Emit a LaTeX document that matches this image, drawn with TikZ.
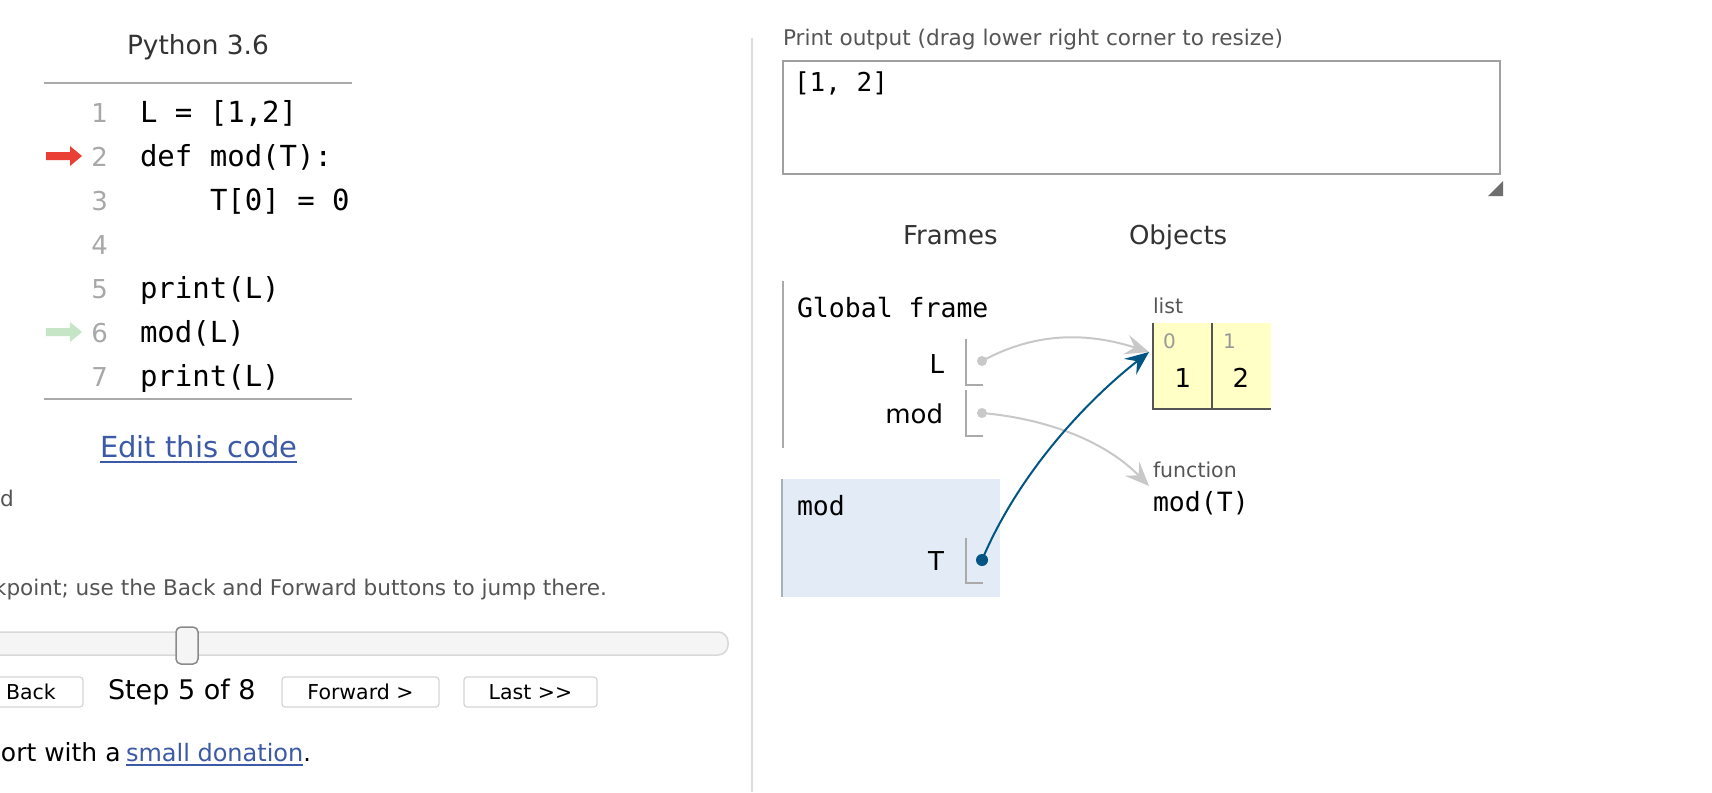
\documentclass[tikz,border=0pt]{standalone}
\usepackage{fontspec}
\setmainfont{DejaVu Sans}
\newfontfamily\monof{DejaVu Sans Mono}
\usetikzlibrary{arrows.meta}
\definecolor{rulegray}{HTML}{AAAAAA}
\definecolor{lnumgray}{HTML}{A8A8A8}
\definecolor{redarr}{HTML}{E93F34}
\definecolor{greenarr}{HTML}{C6E5C6}
\definecolor{linkblue}{HTML}{3C5AA6}
\definecolor{textgray}{HTML}{555555}
\definecolor{headgray}{HTML}{333333}
\definecolor{trackfill}{HTML}{F5F5F5}
\definecolor{trackline}{HTML}{D8D8D8}
\definecolor{handleline}{HTML}{8A8A8A}
\definecolor{btnline}{HTML}{D4D4D4}
\definecolor{divider}{HTML}{DDDDDD}
\definecolor{boxline}{HTML}{A0A0A0}
\definecolor{framefill}{HTML}{E2EBF6}
\definecolor{framebar}{HTML}{A8B0B8}
\definecolor{listyellow}{HTML}{FFFFC6}
\definecolor{listline}{HTML}{555555}
\definecolor{idxgray}{HTML}{999999}
\definecolor{ptrgray}{HTML}{C8C8C8}
\definecolor{ptrblue}{HTML}{005583}
\definecolor{gripgray}{HTML}{6E6E6E}
\newcommand\fs[1]{\fontsize{#1}{#1}\selectfont}
\begin{document}
\begin{tikzpicture}[x=1pt,y=-1pt,
  txt/.style={inner sep=0pt,outer sep=0pt},
  code/.style={txt,anchor=base west,font=\monof\fs{29}},
  lnum/.style={txt,anchor=base east,font=\fs{26},text=lnumgray},
  smalltxt/.style={txt,anchor=base west,font=\fs{21.6},text=textgray},
  btn/.style={draw=btnline,line width=1.2pt,fill=white,rounded corners=3pt,
    minimum height=30pt,inner sep=0pt,font=\fs{20.5},text height=14.6pt,text depth=0pt},
  monotxt/.style={txt,anchor=base west,font=\monof\fs{26.5}},
  varname/.style={txt,anchor=base east,font=\fs{26}},
  bracket/.style={draw=rulegray,line width=1.3pt},
  dot/.style={circle,inner sep=0pt,minimum size=10pt},
  label/.style={txt,anchor=base west,font=\fs{20.5},text=textgray},
  ptr/.style={line width=2pt,-{Stealth[length=24pt,width=20pt,inset=9pt]}},
  cell/.style={fill=listyellow,inner sep=0pt,minimum width=59pt,minimum height=86pt}]
\useasboundingbox (0,0) rectangle (1712,792);
\clip (0,0) rectangle (1712,792);
\fill[white] (0,0) rectangle (1712,792);

% ---------- left panel: code ----------
\node[txt,anchor=base west,font=\fs{26.4},text=headgray] (pyver) at (127,55) {Python 3.6};
\draw[rulegray,line width=1.8pt] (44,83) -- (352,83);
\draw[rulegray,line width=1.8pt] (44,399) -- (352,399);

\node[lnum] (n1) at (108,122) {1};
\node[lnum] (n2) at (108,166) {2};
\node[lnum] (n3) at (108,210) {3};
\node[lnum] (n4) at (108,254) {4};
\node[lnum] (n5) at (108,298) {5};
\node[lnum] (n6) at (108,342) {6};
\node[lnum] (n7) at (108,386) {7};

\node[code] (c1) at (140,122) {L = [1,2]};
\node[code] (c2) at (140,166) {def mod(T):};
\node[code] (c3) at (210,210) {T[0] = 0};
\node[code] (c5) at (140,298) {print(L)};
\node[code] (c6) at (140,342) {mod(L)};
\node[code] (c7) at (140,386) {print(L)};

\fill[redarr] (46,152) -- (70,152) -- (70,146) -- (82,156) -- (70,166) -- (70,160) -- (46,160) -- cycle;
\fill[greenarr] (46,328) -- (70,328) -- (70,322) -- (82,332) -- (70,342) -- (70,336) -- (46,336) -- cycle;

\node[txt,anchor=base west,font=\fs{29},text=linkblue] (edit) at (100,457) {Edit this code};
\draw[linkblue,line width=1.8pt] ([yshift=-5pt]edit.base west) -- ([yshift=-5pt]edit.base east);

\node[smalltxt] (legend) at (0,506) {d};
\node[smalltxt] (hint) at (-6,595) {kpoint; use the Back and Forward buttons to jump there.};

% slider
\draw[trackline,fill=trackfill,line width=1.5pt,rounded corners=10pt] (-20,632) rectangle (728,655);
\draw[handleline,fill=trackfill,line width=1.5pt,rounded corners=5pt] (176,627) rectangle (198,664);

% buttons
\node[btn,minimum width=123pt] (back) at (21.5,692) {};
\node[txt,anchor=base west,font=\fs{20.5}] (backtxt) at (6,699) {Back};
\node[txt,anchor=base west,font=\fs{27}] (step) at (108,699) {Step 5 of 8};
\node[btn,minimum width=157pt] (fwd) at (360.5,692) {Forward >};
\node[btn,minimum width=133pt] (last) at (530.5,692) {Last >{}>};

\node[txt,anchor=base west,font=\fs{25}] (support) at (1,761) {ort with a};
\node[txt,anchor=base west,font=\fs{24},text=linkblue] (donate) at (126,761) {small donation};
\node[txt,anchor=base west,font=\fs{24}] (period) at (donate.base east) {.};
\draw[linkblue,line width=1.5pt] ([yshift=-4pt]donate.base west) -- ([yshift=-4pt]donate.base east);

% divider
\draw[divider,line width=1.5pt] (752,38) -- (752,792);

% ---------- right panel ----------
\node[smalltxt] (ptitle) at (783,46) {Print output (drag lower right corner to resize)};
\node[draw=boxline,line width=2pt,inner sep=0pt,minimum width=717pt,minimum height=113pt] (pbox) at (1141.5,117.5) {};
\node[txt,anchor=base west,font=\monof\fs{26}] (pout) at (794,92) {[1, 2]};
\fill[gripgray] (1503,181) -- (1503,196) -- (1488,196) -- cycle;

\node[txt,anchor=base west,font=\fs{26},text=headgray] (frames) at (903,244) {Frames};
\node[txt,anchor=base west,font=\fs{26},text=headgray] (objects) at (1129,244) {Objects};

% global frame
\draw[rulegray,line width=2pt] (783,281) -- (783,448);
\node[monotxt] (gf) at (797,317) {Global frame};
\node[varname] (vL) at (944,373) {L};
\node[varname] (vmod) at (943,423) {mod};
\draw[bracket] (966,339) -- (966,385) -- (983,385);
\draw[bracket] (966,390) -- (966,436) -- (983,436);

% mod frame
\fill[framefill] (782,479) rectangle (1000,597);
\draw[framebar,line width=2pt] (782,479) -- (782,597);
\node[monotxt] (mf) at (797,515) {mod};
\node[varname] (vT) at (944,570) {T};
\draw[bracket] (966,538) -- (966,583) -- (983,583);

% list object
\node[label] (listlbl) at (1153,313) {list};
\node[cell] (cell0) at (1182.5,366) {};
\node[cell] (cell1) at (1241.5,366) {};
\draw[listline,line width=2pt] (cell0.north west) -- (cell0.south west) -- (cell1.south east);
\draw[listline,line width=2pt] (cell0.north east) -- (cell0.south east);
\node[txt,anchor=base west,font=\fs{20},text=idxgray] (i0) at (1163,348) {0};
\node[txt,anchor=base west,font=\fs{20},text=idxgray] (i1) at (1223,348) {1};
\node[txt,anchor=base,font=\fs{26}] (val0) at (1183,387) {1};
\node[txt,anchor=base,font=\fs{26}] (val1) at (1241,387) {2};

% function object
\node[label] (funclbl) at (1153,477) {function};
\node[monotxt] (fname) at (1153,511) {mod(T)};

\coordinate (listin) at (1149,352);
\coordinate (funcin) at (1149,486);

% pointers
\node[dot,fill=ptrgray] (Ldot) at (982,361) {};
\node[dot,fill=ptrgray] (moddot) at (982,413) {};
\node[dot,fill=ptrblue,minimum size=12pt] (Tdot) at (982,560) {};
\draw[ptr,ptrgray] (Ldot.center) .. controls (1030,335) and (1080,330) .. (listin);
\draw[ptr,ptrgray] (moddot.center) .. controls (1040,418) and (1102,438) .. (funcin);
\draw[ptr,ptrblue] (Tdot.center) .. controls (1020,470) and (1090,398) .. (listin);
\end{tikzpicture}
\end{document}
